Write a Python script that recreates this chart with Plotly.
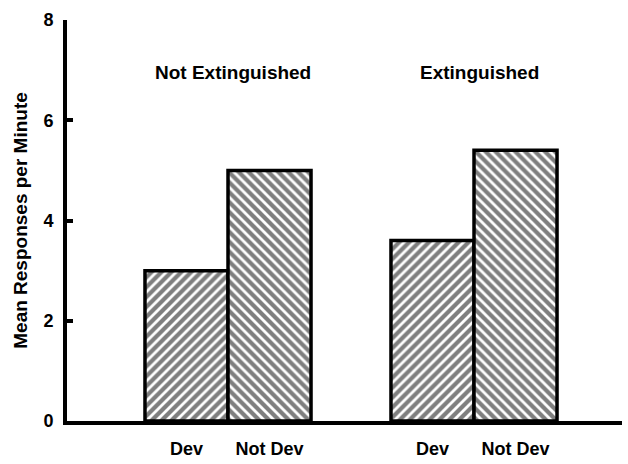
import plotly.graph_objects as go

# Mean responses per minute by extinction condition and deviance group
conditions = ["Not Extinguished", "Extinguished"]
dev_values = [3.0, 3.6]
not_dev_values = [5.0, 5.4]
bar_labels = ["Dev", "Not Dev"]
y_ticks = [0, 2, 4, 6, 8]

BARGAP = 0.325
group_pos = list(range(len(conditions)))
half = (1 - BARGAP) / 4  # offset of each bar centre from its group centre

FONT = dict(family="Liberation Sans, Arial, sans-serif", color="black", weight="bold")

def hatch(shape):
    return dict(color="white", line=dict(color="black", width=3.5),
                pattern=dict(shape=shape, fgcolor="black", bgcolor="white",
                             size=7, solidity=0.6))

fig = go.Figure()
fig.add_trace(go.Bar(x=group_pos, y=dev_values, name=bar_labels[0],
                     marker=hatch("/")))
fig.add_trace(go.Bar(x=group_pos, y=not_dev_values, name=bar_labels[1],
                     marker=hatch("\\")))

# tick labels under each bar
tickvals, ticktext = [], []
for g in group_pos:
    tickvals += [g - half, g + half]
    ticktext += bar_labels

# condition labels above each pair
for g, name in zip(group_pos, conditions):
    fig.add_annotation(x=g, y=6.95, xref="x", yref="y", text=name,
                       showarrow=False, xshift=5,
                       font=dict(size=19, **FONT))

fig.update_layout(
    width=628, height=464,
    margin=dict(l=67, r=6, t=20, b=43),
    paper_bgcolor="white", plot_bgcolor="white",
    barmode="group", bargap=BARGAP, bargroupgap=0,
    showlegend=False,
    xaxis=dict(range=[-0.6545, 1.6016], tickvals=tickvals, ticktext=ticktext,
               showline=True, linecolor="black", linewidth=3.5,
               showgrid=False, zeroline=False, ticks="",
               ticklabelstandoff=9, automargin=False,
               tickfont=dict(size=18, **FONT)),
    yaxis=dict(range=[0, 8], tickvals=y_ticks,
               showline=True, linecolor="black", linewidth=4,
               showgrid=False, zeroline=False,
               ticks="inside", ticklen=6, tickwidth=3.5, tickcolor="black",
               ticklabelstandoff=6, automargin=False,
               tickfont=dict(size=18, **FONT),
               title=dict(text="Mean Responses per Minute", standoff=12,
                          font=dict(size=19, **FONT))),
)

fig.write_html("out.html")
